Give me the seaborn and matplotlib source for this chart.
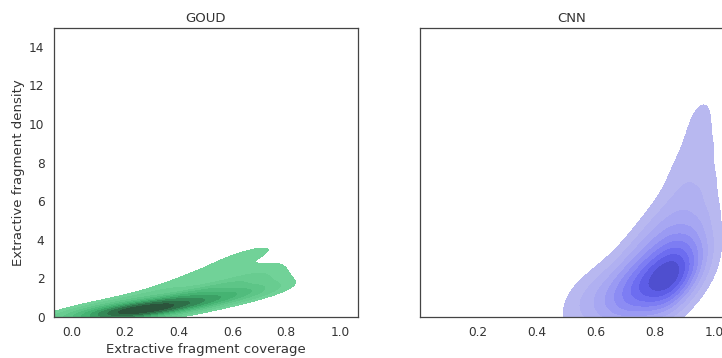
import matplotlib
matplotlib.use("Agg")
import matplotlib.pyplot as plt
import seaborn as sns
import pandas as pd

# GOUD: coverage / density points (estimated from the plot) with weights
goud_cov = [-0.03, -0.03,
            0.05, 0.05, 0.05,
            0.13, 0.13, 0.13, 0.13,
            0.21, 0.21, 0.21, 0.21,
            0.29, 0.29, 0.29, 0.29,
            0.37, 0.37, 0.37, 0.37,
            0.45, 0.45, 0.45, 0.45,
            0.53, 0.53, 0.53, 0.53,
            0.61, 0.61, 0.61, 0.61,
            0.67, 0.67, 0.67, 0.67,
            0.71, 0.71, 0.71, 0.71,
            0.70, 0.72, 0.72]
goud_dens = [0.05, 0.20,
             0.05, 0.20, 0.40,
             0.10, 0.25, 0.45, 0.65,
             0.12, 0.30, 0.50, 0.80,
             0.20, 0.40, 0.70, 1.15,
             0.32, 0.55, 0.90, 1.50,
             0.50, 0.80, 1.20, 1.95,
             0.70, 1.00, 1.45, 2.40,
             0.95, 1.25, 1.75, 2.90,
             1.10, 1.45, 2.10, 3.30,
             1.30, 1.80, 2.70, 3.70,
             2.40, 1.40, 2.00]
goud_w = [1, 0.5,
          2, 1.5, 0.6,
          3, 3, 1.5, 0.6,
          4, 5, 2.5, 0.8,
          3.5, 5, 3, 1,
          3, 4.5, 3, 1,
          2.5, 3.5, 2.5, 1,
          2, 3, 2, 1,
          1.5, 2.2, 1.6, 1,
          1, 1.4, 1, 0.8,
          0.6, 0.7, 0.6, 0.45,
          0.8, 0.5, 0.5]

# CNN
cnn_cov = [0.53, 0.53,
           0.59, 0.59, 0.59,
           0.65, 0.65, 0.65, 0.65,
           0.71, 0.71, 0.71, 0.71, 0.71,
           0.77, 0.77, 0.77, 0.77, 0.77, 0.77,
           0.83, 0.83, 0.83, 0.83, 0.83, 0.83,
           0.88, 0.88, 0.88, 0.88, 0.88, 0.88, 0.88,
           0.93, 0.93, 0.93, 0.93, 0.93, 0.93, 0.93, 0.93,
           0.97, 0.97, 0.97, 0.97, 0.97, 0.97, 0.97, 0.96]
cnn_dens = [0.6, 1.0,
            0.4, 1.0, 1.6,
            0.4, 1.0, 1.7, 2.4,
            0.5, 1.1, 1.8, 2.6, 3.3,
            0.6, 1.3, 2.0, 2.9, 3.9, 4.6,
            0.7, 1.5, 2.2, 3.2, 4.4, 5.6,
            1.0, 1.8, 2.5, 3.6, 5.0, 6.6, 7.8,
            1.7, 2.4, 3.3, 4.6, 6.2, 7.8, 9.2, 10.4,
            2.3, 3.5, 5.0, 6.6, 8.3, 9.8, 11.0, 12.3]
cnn_w = [0.5, 0.4,
         0.8, 0.8, 0.4,
         1.2, 1.4, 0.9, 0.4,
         1.5, 2.2, 2, 1, 0.4,
         1.5, 3, 3.5, 2, 0.9, 0.4,
         1.5, 3.5, 5, 3, 1.5, 0.6,
         1.2, 3, 3.5, 2.5, 1.3, 0.7, 0.4,
         0.7, 1.5, 1.8, 1.3, 0.9, 0.6, 0.4, 0.3,
         0.4, 0.6, 0.6, 0.5, 0.45, 0.35, 0.3, 0.25]

goud = pd.DataFrame({"coverage": goud_cov, "density": goud_dens, "w": goud_w})
cnn = pd.DataFrame({"coverage": cnn_cov, "density": cnn_dens, "w": cnn_w})

green_cmap = sns.blend_palette(["#74d49b", "#5cc486", "#3fae6c", "#2f7a4e", "#2a4634"], as_cmap=True)
blue_cmap = sns.blend_palette(["#bcbcf0", "#a4a4f2", "#8484f4", "#6262ee", "#4848c4"], as_cmap=True)

sns.set_theme(style="white", context="notebook", font_scale=1.1,
              rc={"text.color": "#333333", "axes.labelcolor": "#333333",
                  "xtick.color": "#333333", "ytick.color": "#333333",
                  "axes.edgecolor": "#444444"})

fig = plt.figure(figsize=(722 / 72, 358 / 72), dpi=72)
ax1 = fig.add_axes([54 / 722, 41.3 / 358, 304 / 722, 289 / 358])
ax2 = fig.add_axes([420 / 722, 41.3 / 358, 304 / 722, 289 / 358], sharey=ax1)

sns.kdeplot(data=goud, x="coverage", y="density", weights="w", fill=True,
            cmap=green_cmap, bw_adjust=0.85, ax=ax1)
sns.kdeplot(data=cnn, x="coverage", y="density", weights="w", fill=True,
            cmap=blue_cmap, bw_adjust=0.8, ax=ax2)

ax1.set_xlim(-0.066, 1.068)
ax2.set_xlim(0.005, 1.034)
ax1.set_ylim(0, 15)
ax1.set_title("GOUD")
ax2.set_title("CNN")
ax1.set_xlabel("Extractive fragment coverage")
ax1.set_ylabel("Extractive fragment density")
ax2.set_xlabel("")
ax2.set_ylabel("")
ax2.tick_params(labelleft=False)

fig.savefig("out.png", dpi=72)
